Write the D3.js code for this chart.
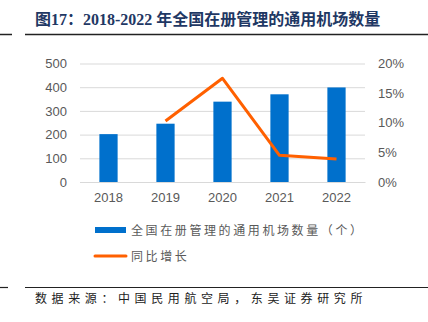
<!DOCTYPE html>
<html>
<head>
<meta charset="utf-8">
<script src="https://cdn.jsdelivr.net/npm/d3@7"></script>
<style>
  html, body { margin: 0; padding: 0; background: #fff; }
  svg { display: block; }
</style>
</head>
<body>
<svg id="chart" width="428" height="322"></svg>
<script>
const years = ["2018", "2019", "2020", "2021", "2022"];
const airports = [202, 246, 339, 370, 399];
const growthYears = ["2019", "2020", "2021", "2022"];
const growth = [0.103, 0.175, 0.045, 0.039];
const leftTicks = [0, 100, 200, 300, 400, 500];
const rightTicks = [0, 0.05, 0.10, 0.15, 0.20];
const titleText = "图17：2018-2022 年全国在册管理的通用机场数量";
const legendBar = "全国在册管理的通用机场数量（个）";
const legendLine = "同比增长";
const sourceText = "数据来源：中国民用航空局，东吴证券研究所";

const svg = d3.select("#chart");
const plotLeft = 80, plotRight = 365, plotTop = 63.5, plotBottom = 182;

const x = d3.scaleBand().domain(years).range([plotLeft, plotRight]).paddingInner(0.68).paddingOuter(0.34);
const y = d3.scaleLinear().domain([0, 500]).range([plotBottom, plotTop]);
const y2 = d3.scaleLinear().domain([0, 0.2]).range([plotBottom, plotTop]);

const axisFont = "Liberation Sans, Arial, sans-serif";
const grey = "#595959";

// Title
svg.append("text")
  .attr("x", 35).attr("y", 25)
  .attr("font-family", "Liberation Serif, 'Noto Sans CJK SC', serif")
  .attr("font-weight", "bold")
  .attr("font-size", 16)
  .attr("fill", "#1F3864")
  .text(titleText);

// rules
svg.append("line").attr("x1", 0).attr("x2", 12).attr("y1", 34.5).attr("y2", 34.5).attr("stroke", "#222").attr("stroke-width", 1.5);
svg.append("line").attr("x1", 25).attr("x2", 428).attr("y1", 34.5).attr("y2", 34.5).attr("stroke", "#222").attr("stroke-width", 1.5);
svg.append("line").attr("x1", 0).attr("x2", 8).attr("y1", 287.5).attr("y2", 287.5).attr("stroke", "#222").attr("stroke-width", 1.2);
svg.append("line").attr("x1", 25).attr("x2", 428).attr("y1", 287.5).attr("y2", 287.5).attr("stroke", "#222").attr("stroke-width", 1.2);

// Gridlines (left axis)
const gridAxis = d3.axisLeft(y).tickValues(leftTicks).tickSize(-(plotRight - plotLeft)).tickFormat("");
const gg = svg.append("g").attr("transform", `translate(${plotLeft},0)`).call(gridAxis);
gg.select(".domain").remove();
gg.selectAll(".tick line").attr("stroke", "#D9D9D9").attr("stroke-width", 1);

// Left axis labels
const la = svg.append("g").attr("transform", `translate(${plotLeft},0)`)
  .call(d3.axisLeft(y).tickValues(leftTicks).tickSize(0).tickPadding(13));
la.select(".domain").remove();
la.selectAll("text").attr("font-family", axisFont).attr("font-size", 13).attr("fill", grey);

// Right axis labels
const ra = svg.append("g").attr("transform", `translate(${plotRight},0)`)
  .call(d3.axisRight(y2).tickValues(rightTicks).tickSize(0).tickPadding(13).tickFormat(d3.format(".0%")));
ra.select(".domain").remove();
ra.selectAll("text").attr("font-family", axisFont).attr("font-size", 13).attr("fill", grey);

// Bottom axis
const ba = svg.append("g").attr("transform", `translate(0,${plotBottom})`)
  .call(d3.axisBottom(x).tickSize(0).tickPadding(11));
ba.select(".domain").attr("stroke", "#D9D9D9");
ba.selectAll("text").attr("font-family", axisFont).attr("font-size", 13).attr("fill", grey);

// Bars
svg.append("g").selectAll("rect").data(years).join("rect")
  .attr("x", d => x(d))
  .attr("width", x.bandwidth())
  .attr("y", (d, i) => y(airports[i]))
  .attr("height", (d, i) => y(0) - y(airports[i]))
  .attr("fill", "#0070CC");

// Line
const line = d3.line()
  .x((d, i) => x(growthYears[i]) + x.bandwidth() / 2)
  .y(d => y2(d));
svg.append("path").datum(growth)
  .attr("d", line)
  .attr("fill", "none")
  .attr("stroke", "#FF6000")
  .attr("stroke-width", 3)
  .attr("stroke-linejoin", "round");

// Legend
const cjk = "'Noto Sans CJK SC', sans-serif";
svg.append("rect").attr("x", 95).attr("y", 227).attr("width", 31).attr("height", 6).attr("fill", "#0070CC");
svg.append("text").attr("x", 131).attr("y", 234.5)
  .attr("font-family", cjk).attr("font-size", 12).attr("letter-spacing", 2.6).attr("fill", grey)
  .text(legendBar);
svg.append("line").attr("x1", 95).attr("x2", 126).attr("y1", 256).attr("y2", 256)
  .attr("stroke", "#FF6000").attr("stroke-width", 3).attr("stroke-linecap", "round");
svg.append("text").attr("x", 131).attr("y", 260.5)
  .attr("font-family", cjk).attr("font-size", 12).attr("letter-spacing", 2.6).attr("fill", grey)
  .text(legendLine);

// Source
svg.append("text").attr("x", 35).attr("y", 303)
  .attr("font-family", cjk).attr("font-size", 12).attr("letter-spacing", 4.6).attr("fill", "#222")
  .text(sourceText);
</script>
</body>
</html>
